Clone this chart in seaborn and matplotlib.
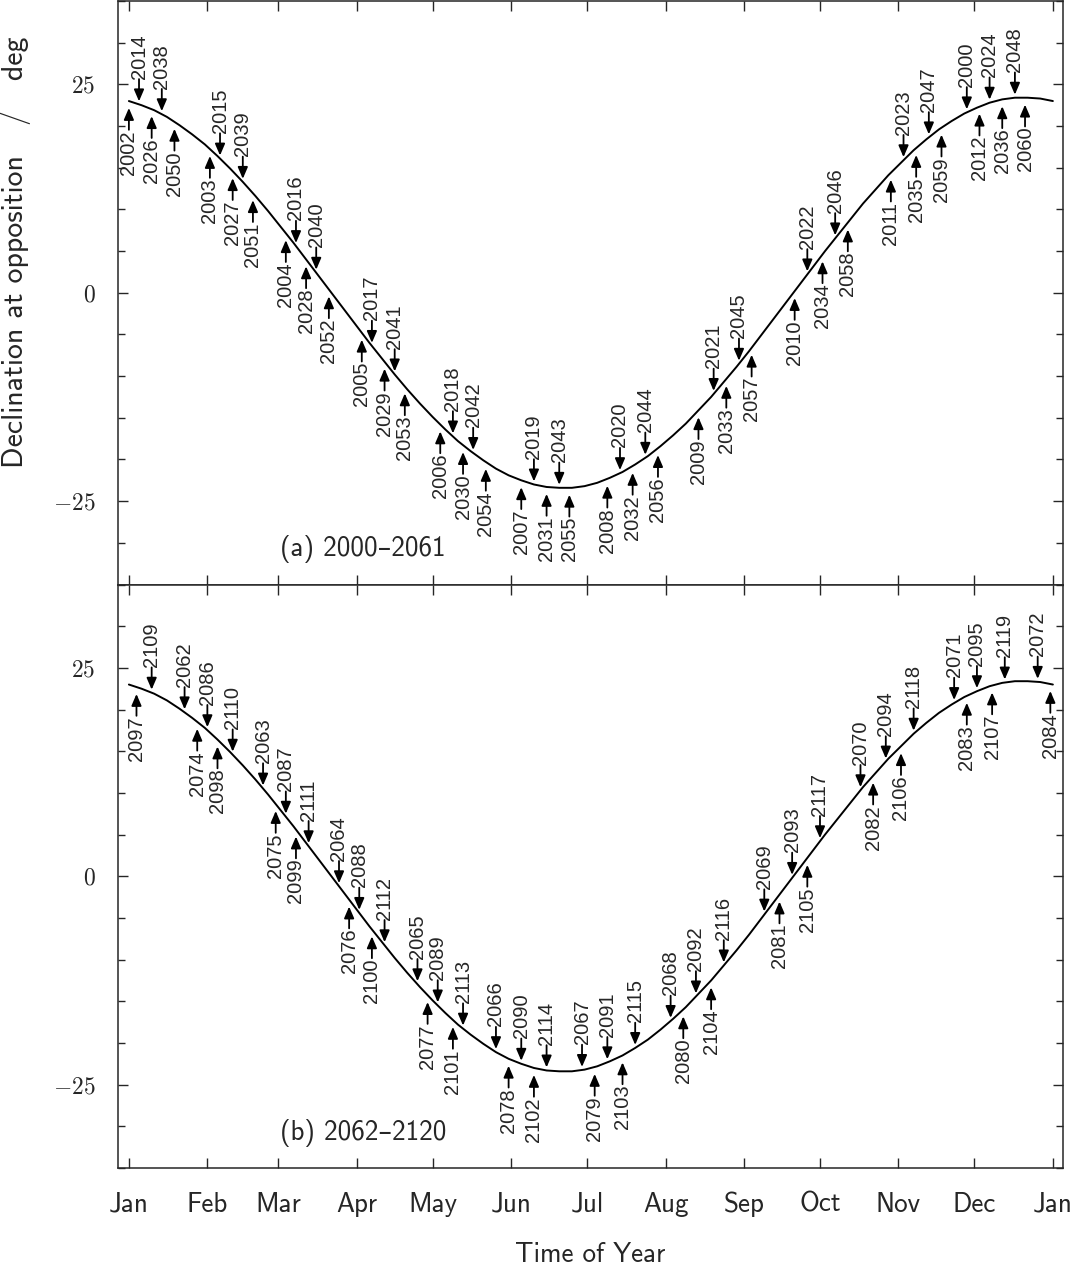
import seaborn as sns
import matplotlib.pyplot as plt
import numpy as np
import pandas as pd
from matplotlib.ticker import MultipleLocator

# declination of the opposition point, every 5 days (day 0 = 1 Jan)
curve_days = list(range(0, 366, 5))
curve_dec = [23.0, 22.5, 21.9, 21.1, 20.1, 19.0, 17.8, 16.4, 14.9, 13.3, 11.6, 9.8,
             7.9, 6.0, 4.0, 2.0, 0.0, -2.0, -4.0, -6.0, -7.9, -9.8, -11.6, -13.3,
             -14.9, -16.4, -17.8, -19.0, -20.1, -21.1, -21.9, -22.5, -23.0, -23.3,
             -23.4, -23.4, -23.2, -22.8, -22.2, -21.5, -20.6, -19.6, -18.4, -17.1,
             -15.7, -14.1, -12.5, -10.7, -8.9, -7.0, -5.0, -3.0, -1.0, 1.0, 3.0, 5.0,
             6.9, 8.8, 10.7, 12.4, 14.1, 15.6, 17.1, 18.4, 19.6, 20.6, 21.5, 22.2,
             22.8, 23.2, 23.4, 23.4, 23.3, 23.0]

month_starts = [0, 31, 59, 90, 120, 151, 181, 212, 243, 273, 304, 334, 365]
month_names = ['Jan', 'Feb', 'Mar', 'Apr', 'May', 'Jun', 'Jul', 'Aug', 'Sep',
               'Oct', 'Nov', 'Dec', 'Jan']

# panel (a): year, day of year of opposition, side of the curve the label sits on
top_years = [2000,
             2002, 2003, 2004, 2005, 2006, 2007, 2008, 2009, 2010, 2011, 2012,
             2014, 2015, 2016, 2017, 2018, 2019, 2020, 2021, 2022, 2023, 2024,
             2026, 2027, 2028, 2029, 2030, 2031, 2032, 2033, 2034, 2035, 2036,
             2038, 2039, 2040, 2041, 2042, 2043, 2044, 2045, 2046, 2047, 2048,
             2050, 2051, 2052, 2053, 2054, 2055, 2056, 2057, 2058, 2059, 2060]
top_days = [331,
            0, 32, 62, 92, 123, 155, 189, 225, 263, 301, 336,
            4, 36, 66, 96, 128, 160, 194, 231, 268, 306, 340,
            9, 41, 70, 101, 132, 165, 199, 236, 274, 311, 345,
            13, 45, 74, 105, 136, 170, 204, 241, 279, 316, 350,
            18, 49, 79, 109, 141, 174, 209, 246, 284, 321, 354]
top_side = ['above'] + ['below'] * 11 + ['above'] * 11 + ['below'] * 11 \
    + ['above'] * 11 + ['below'] * 11

# panel (b)
bottom_years = [2062, 2063, 2064, 2065, 2066, 2067, 2068, 2069, 2070, 2071, 2072,
                2074, 2075, 2076, 2077, 2078, 2079, 2080, 2081, 2082, 2083, 2084,
                2086, 2087, 2088, 2089, 2090, 2091, 2092, 2093, 2094, 2095,
                2097, 2098, 2099, 2100, 2101, 2102, 2103, 2104, 2105, 2106, 2107,
                2109, 2110, 2111, 2112, 2113, 2114, 2115, 2116, 2117, 2118, 2119]
bottom_days = [22, 53, 83, 114, 145, 179, 214, 251, 289, 326, 359,
               27, 58, 87, 118, 150, 184, 219, 257, 294, 331, 364,
               31, 62, 91, 122, 155, 189, 224, 262, 299, 335,
               3, 35, 66, 96, 128, 160, 195, 230, 268, 305, 341,
               9, 41, 71, 101, 132, 165, 200, 235, 273, 310, 346]
bottom_side = ['above'] * 11 + ['below'] * 11 + ['above'] * 10 + ['below'] * 11 \
    + ['above'] * 11

sns.set_style('ticks')
plt.rcParams['font.family'] = ['cmss10', 'DejaVu Sans']
plt.rcParams['mathtext.fontset'] = 'cm'
plt.rcParams['axes.linewidth'] = 1.1

curve = pd.DataFrame({'day': curve_days, 'dec': curve_dec})

fig = plt.figure(figsize=(10.74, 12.65), dpi=100)
ax1 = fig.add_axes([0.10987, 0.53794, 0.87989, 0.46126])
ax2 = fig.add_axes([0.10987, 0.07668, 0.87989, 0.46126])

year_font = ['Liberation Sans', 'DejaVu Sans']
arrow = dict(arrowstyle='-|>,head_length=0.7,head_width=0.3', color='black',
             lw=1.3, patchA=None, shrinkA=0.3, mutation_scale=10)

panels = [(ax1, top_years, top_days, top_side, '(a) 2000\u20132061'),
          (ax2, bottom_years, bottom_days, bottom_side, '(b) 2062\u20132120')]

for ax, years, days, sides, title in panels:
    sns.lineplot(data=curve, x='day', y='dec', ax=ax, color='black', lw=1.4)
    for yr, d, s in zip(years, days, sides):
        yc = np.interp(d, curve_days, curve_dec)
        if s == 'above':
            off, va, gap, rel = 18.5, 'bottom', 2.2, (0.5, 0.0)
        else:
            off, va, gap, rel = -21, 'top', 5, (0.5, 1.0)
        ax.annotate(str(yr), xy=(d, yc), xytext=(0, off), textcoords='offset points',
                    rotation=90, ha='center', va=va, fontsize=14.5, family=year_font,
                    arrowprops=dict(arrow, shrinkB=gap, relpos=rel))
    ax.text(0.171, 0.06, title, transform=ax.transAxes, fontsize=19.5,
            ha='left', va='center')

    ax.set_xlim(-4.3, 369.0)
    ax.set_ylim(-35, 35)
    ax.set_xticks(month_starts)
    ax.set_yticks([-25, 0, 25])
    ax.set_yticklabels([r'$-25$', r'$0$', r'$25$'])
    ax.yaxis.set_minor_locator(MultipleLocator(5))
    ax.tick_params(axis='both', which='both', direction='in', top=True, right=True,
                   width=1.0)
    ax.tick_params(which='major', length=7)
    ax.tick_params(which='minor', length=5)
    ax.tick_params(axis='y', labelsize=17, pad=16)
    ax.set_xlabel('')
    ax.set_ylabel('')

ax1.set_xticklabels([])
ax2.set_xticklabels(month_names)
ax2.tick_params(axis='x', labelsize=19.5, pad=17)

fig.text(16 / 1074, 1 - 252 / 1265, 'Declination at opposition   /   deg',
         rotation=90, ha='center', va='center', fontsize=21.5)
fig.text(590 / 1074, 3 / 1265, 'Time of Year', ha='center', va='baseline',
         fontsize=19.5)

fig.savefig('out.png', dpi=100)
